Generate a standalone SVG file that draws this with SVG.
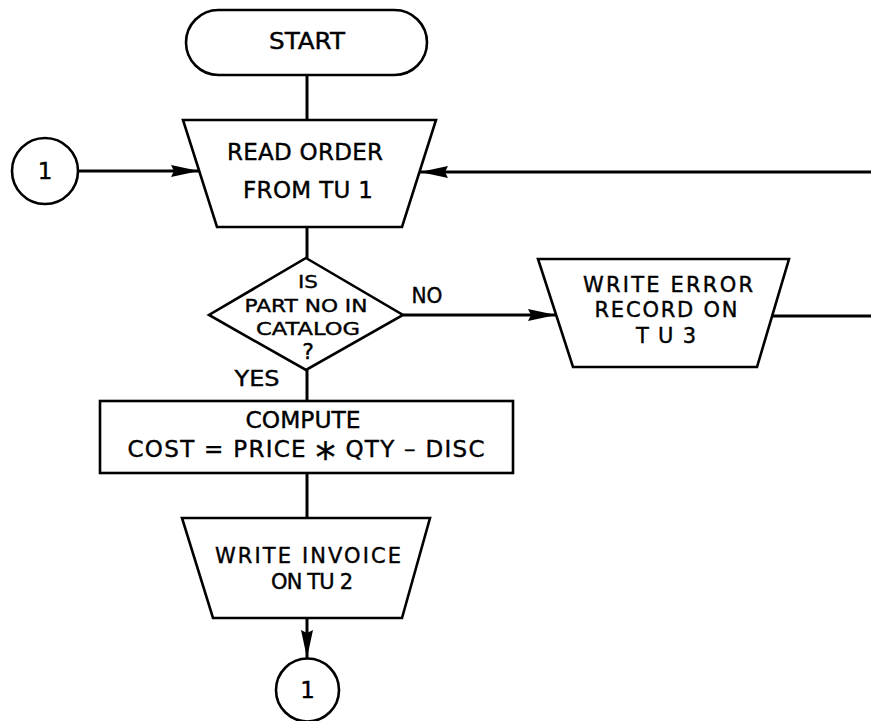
<svg xmlns="http://www.w3.org/2000/svg" width="871" height="721" viewBox="0 0 871 721">
  <style>
    .shape { fill: #ffffff; stroke: #000000; stroke-width: 2.6; stroke-linejoin: miter; }
    .flow { fill: none; stroke: #000000; stroke-width: 3; }
    .lbl { font-family: "DejaVu Sans", "Liberation Sans", Arial, sans-serif; fill: #000000; stroke: #000000; stroke-width: 0.4; text-anchor: middle; }
    .big { font-size: 23px; }
    .mid { font-size: 21px; }
    .sml { font-size: 18.5px; }
  </style>
  <defs>
    <marker id="arrow" markerUnits="userSpaceOnUse" viewBox="0 0 28 12" refX="28" refY="6" markerWidth="28" markerHeight="12" orient="auto">
      <path d="M0,0 L28,6 L0,12 L3,6 z" fill="#000000"/>
    </marker>
  </defs>

  <rect x="0" y="0" width="871" height="721" fill="#ffffff"/>

  <!-- connectors -->
  <g id="connectors">
    <line class="flow" x1="307" y1="75" x2="307" y2="120"/>
    <line class="flow" x1="78" y1="171" x2="199" y2="171" marker-end="url(#arrow)"/>
    <line class="flow" x1="871" y1="172" x2="420" y2="172" marker-end="url(#arrow)"/>
    <line class="flow" x1="307" y1="227" x2="307" y2="258"/>
    <line class="flow" x1="403" y1="315" x2="556" y2="315" marker-end="url(#arrow)"/>
    <line class="flow" x1="773" y1="316" x2="871" y2="316"/>
    <line class="flow" x1="307" y1="370" x2="307" y2="401"/>
    <line class="flow" x1="307" y1="473" x2="307" y2="518"/>
    <line class="flow" x1="307" y1="618" x2="307" y2="658" marker-end="url(#arrow)"/>
  </g>

  <!-- terminal -->
  <g id="start">
    <rect class="shape" x="186" y="10" width="241" height="65" rx="32.5" ry="32.5"/>
    <text class="lbl big" x="307" y="49" textLength="76" lengthAdjust="spacingAndGlyphs">START</text>
  </g>

  <!-- off-page connector, entry -->
  <g id="connector-in">
    <circle class="shape" cx="45" cy="171" r="33"/>
    <text class="lbl" font-size="23" x="45" y="179">1</text>
  </g>

  <!-- input: read order -->
  <g id="read-order">
    <polygon class="shape" points="183,120 436,120 402,227 217,227"/>
    <text class="lbl big" x="305" y="160" textLength="156" lengthAdjust="spacing">READ ORDER</text>
    <text class="lbl big" x="308" y="198" textLength="130" lengthAdjust="spacing">FROM  TU 1</text>
  </g>

  <!-- decision -->
  <g id="decision">
    <polygon class="shape" points="306,258 403,315 306,370 209,315"/>
    <text class="lbl sml" x="308" y="288" textLength="20" lengthAdjust="spacingAndGlyphs">IS</text>
    <text class="lbl sml" x="306" y="312" textLength="123" lengthAdjust="spacingAndGlyphs">PART NO IN</text>
    <text class="lbl sml" x="308" y="335" textLength="104" lengthAdjust="spacingAndGlyphs">CATALOG</text>
    <text class="lbl" font-size="22" x="308" y="359">?</text>
    <text class="lbl mid" x="427" y="303" textLength="31" lengthAdjust="spacingAndGlyphs">NO</text>
    <text class="lbl mid" x="257" y="386" textLength="45" lengthAdjust="spacingAndGlyphs">YES</text>
  </g>

  <!-- output: error record -->
  <g id="write-error">
    <polygon class="shape" points="538,259 789,259 757,367 573,367"/>
    <text class="lbl mid" x="668" y="292" textLength="170" lengthAdjust="spacing">WRITE ERROR</text>
    <text class="lbl mid" x="666" y="317" textLength="143" lengthAdjust="spacing">RECORD ON</text>
    <text class="lbl mid" x="666" y="343" textLength="60" lengthAdjust="spacing">TU3</text>
  </g>

  <!-- process -->
  <g id="compute">
    <rect class="shape" x="100" y="401" width="413" height="72"/>
    <text class="lbl big" x="303" y="428" textLength="115" lengthAdjust="spacingAndGlyphs">COMPUTE</text>
    <text class="lbl big" x="306" y="457" textLength="357" lengthAdjust="spacing">COST  =  PRICE  <tspan font-size="40" dy="15">*</tspan><tspan dy="-15">  QTY  –  DISC</tspan></text>
  </g>

  <!-- output: invoice -->
  <g id="write-invoice">
    <polygon class="shape" points="182,518 430,518 402,618 213,618"/>
    <text class="lbl mid" x="308" y="563" textLength="186" lengthAdjust="spacing">WRITE INVOICE</text>
    <text class="lbl mid" x="312" y="589" textLength="82" lengthAdjust="spacing">ON TU 2</text>
  </g>

  <!-- off-page connector, exit -->
  <g id="connector-out">
    <circle class="shape" cx="307.5" cy="690" r="31.5"/>
    <text class="lbl" font-size="23" x="307.5" y="698">1</text>
  </g>
</svg>
